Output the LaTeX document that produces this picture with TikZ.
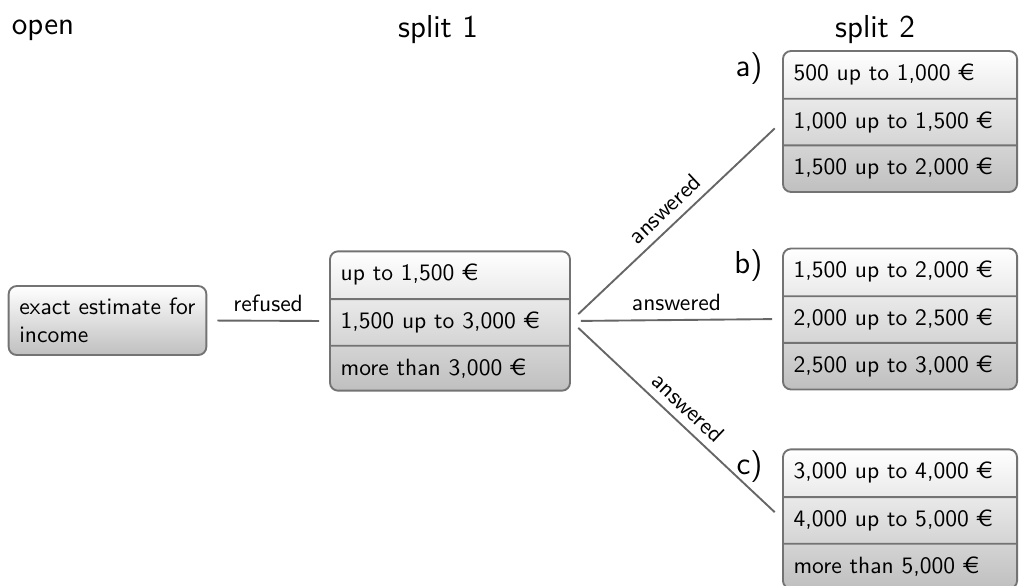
\documentclass[tikz,border=0pt]{standalone}
\usepackage{tikz}
\usepackage[gen]{eurosym}
\usetikzlibrary{shapes.multipart}
\usetikzlibrary{positioning}
\renewcommand{\familydefault}{\sfdefault}

\begin{document}
\begin{tikzpicture}[x=0.425pt, y=-0.425pt,
    box/.style={draw=black!55, line width=0.8pt, rounded corners=3.4pt,
      top color=white, bottom color=black!25, inner xsep=4.5pt, align=left},
    splitbox/.style={box, rectangle split, rectangle split parts=3,
      text height=7pt, text depth=2.5pt, inner ysep=5pt},
    conn/.style={draw=black!60, line width=0.8pt, shorten <=4.25pt, shorten >=4.25pt},
    heading/.style={font=\fontsize{13.5}{16}\selectfont},
    letter/.style={font=\fontsize{13.5}{16}\selectfont, inner sep=0pt, anchor=east}]
      \useasboundingbox (0, 0) rectangle (1020, 585);

      \node [heading] (open) at (43, 30) {open};
      \node [heading] (split1) at (438, 30) {split 1};
      \node [heading] (split2) at (875, 30) {split 2};

      \node [box, text width=75pt, minimum height=29.3pt] (income) at (107.5, 320.5)
        {exact estimate for income};
      \node [splitbox, text width=93pt] (s1) at (450, 321)
        {up to 1,500 \euro\nodepart{two}1,500 up to 3,000 \euro\nodepart{three}more than 3,000 \euro};

      \node [splitbox, text width=90.5pt] (a) at (900, 121.5)
        {500 up to 1,000 \euro\nodepart{two}1,000 up to 1,500 \euro\nodepart{three}1,500 up to 2,000 \euro};
      \node [splitbox, text width=90.5pt] (b) at (900, 319)
        {1,500 up to 2,000 \euro\nodepart{two}2,000 up to 2,500 \euro\nodepart{three}2,500 up to 3,000 \euro};
      \node [splitbox, text width=90.5pt] (c) at (900, 519)
        {3,000 up to 4,000 \euro\nodepart{two}4,000 up to 5,000 \euro\nodepart{three}more than 5,000 \euro};

      \node [letter] (la) at ([shift={(-19, 18)}]a.north west) {a)};
      \node [letter] (lb) at ([shift={(-19, 18)}]b.north west) {b)};
      \node [letter] (lc) at ([shift={(-19, 18)}]c.north west) {c)};

      \draw [conn] (income.east) -- (s1.west) node [midway, above] (refused) {refused};
      \draw [conn] (s1.east) -- (a.west) node [midway, above, sloped] (ansa) {answered};
      \draw [conn] (s1.east) -- (b.west) node [midway, above] (ansb) {answered};
      \draw [conn] (s1.east) -- (c.west) node [midway, above, sloped] (ansc) {answered};
    \end{tikzpicture}
\end{document}
